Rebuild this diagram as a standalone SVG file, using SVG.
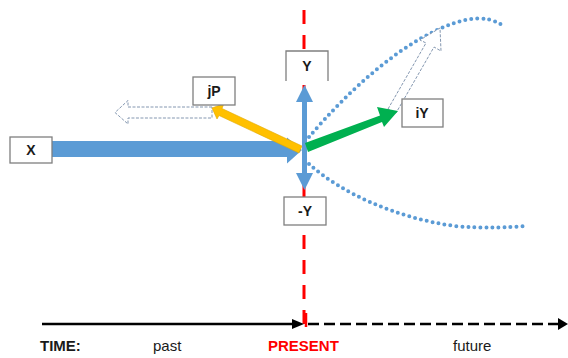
<svg xmlns="http://www.w3.org/2000/svg" width="568" height="358" viewBox="0 0 568 358">
<style>
.box{fill:#fff;stroke:#7f7f7f;stroke-width:1.3}
.lbl{font-family:"Liberation Sans",Arial,sans-serif;font-weight:bold;font-size:14px;fill:#1a1a1a;text-anchor:middle}
.t{font-family:"Liberation Sans",Arial,sans-serif;font-size:15px;fill:#1a1a1a}
.dots{fill:none;stroke:#5B9BD5;stroke-width:4;stroke-linecap:round;stroke-dasharray:0 6}
.hollow{fill:#fff;stroke:#8497b0;stroke-width:1;stroke-dasharray:3 1.5}
</style>
<rect width="568" height="358" fill="#fff"/>
<g id="connectors">
  <line x1="304" y1="10" x2="304" y2="330" stroke="#ff0000" stroke-width="3" stroke-dasharray="14 11"/>
  <path class="dots" d="M309,137 C345,95 405,35 465,20 C485,16 497,21 503,26"/>
  <path class="dots" d="M309,164 C340,192 395,218 455,226 C485,229 510,227 527,226"/>
  <path class="hollow" d="M212,107 L128,107 L128,100.5 L115,112.5 L128,124 L128,118 L212,118 Z"/>
  <path class="hollow" d="M388,109 L426,43 L420,40 L440,28 L441,51 L434,47 L396,113 Z"/>
  <path fill="#5B9BD5" d="M52,141 L287,141 L287,137.5 L302,150 L287,163.5 L287,157 L52,157 Z"/>
  <path fill="#FFC000" stroke="#e0a800" stroke-width="0.6" d="M302,146 L222,108.5 L224,103.5 L212,108 L217,119 L219,115.5 L299,153 Z"/>
  <path fill="#5B9BD5" d="M304.5,85 L313,102 L307,102 L307,173 L313,173 L304.5,190 L296,173 L302,173 L302,102 L296,102 Z"/>
  <path fill="#00B050" d="M305,143 L380,115.5 L377,107 L398,111 L384,127 L382,122 L308,152 Z"/>
  <line x1="42" y1="324" x2="294" y2="324" stroke="#000" stroke-width="2.5"/>
  <path d="M292,319 L304,324 L292,329 Z" fill="#000"/>
  <line x1="308" y1="324" x2="558" y2="324" stroke="#000" stroke-width="2.5" stroke-dasharray="11 5"/>
  <path d="M558,318 L568,324 L558,330 Z" fill="#000"/>
  <line x1="306" y1="313" x2="306" y2="327" stroke="#ff0000" stroke-width="2.5"/>
</g>
<g id="node-X">
  <rect class="box" x="10" y="137" width="42" height="26"/>
  <text class="lbl" x="31" y="155">X</text>
</g>
<g id="node-jP">
  <rect class="box" x="193" y="77" width="42" height="28"/>
  <text class="lbl" x="214" y="96">jP</text>
</g>
<g id="node-Y">
  <rect x="286" y="51" width="42" height="31" fill="#fff"/>
  <path d="M286,81 L286,51 L328,51 L328,81" fill="none" stroke="#7f7f7f" stroke-width="1.3"/>
  <text class="lbl" x="307" y="71">Y</text>
</g>
<g id="node-negY">
  <rect class="box" x="284" y="197" width="42" height="28"/>
  <text class="lbl" x="305" y="216">-Y</text>
</g>
<g id="node-iY">
  <rect class="box" x="402" y="99" width="41" height="28"/>
  <text class="lbl" x="422" y="118">iY</text>
</g>
<g id="labels">
  <text class="t" x="40" y="351" font-weight="bold">TIME:</text>
  <text class="t" x="153" y="351">past</text>
  <text class="t" x="268" y="351" font-weight="bold" style="fill:#ff0000">PRESENT</text>
  <text class="t" x="453" y="351">future</text>
</g>
</svg>
